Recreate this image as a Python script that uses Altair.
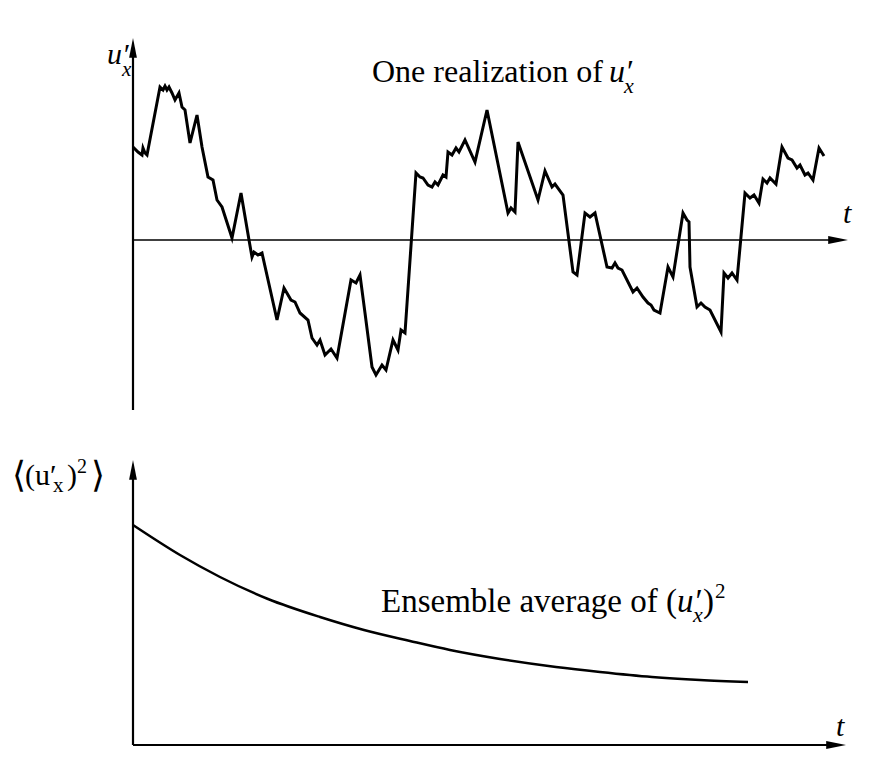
import altair as alt
import pandas as pd

# ---------- data (arbitrary units) ----------
# Top panel: one realization of u'_x versus t
t_real = [0.0, 0.5, 0.9, 1.0, 1.2, 1.4, 2.7, 3.0, 3.2, 3.4, 3.6, 3.9, 4.2, 4.6, 4.9, 5.2,
          5.7, 6.4, 6.9, 7.5, 8.0, 8.4, 8.9, 9.9, 10.8, 11.6, 11.9, 12.1, 12.5, 12.9,
          14.4, 15.1, 15.8, 16.2, 16.7, 17.5, 17.9, 18.4, 18.7, 19.2, 19.8, 20.4, 21.8,
          22.3, 22.7, 23.2, 23.9, 24.3, 24.9, 25.3, 26.0, 26.5, 26.8, 27.2, 28.3, 28.7,
          29.0, 29.5, 29.9, 30.2, 30.5, 31.0, 31.3, 31.5, 31.9, 32.3, 32.6, 33.2, 34.2,
          35.4, 37.5, 37.8, 38.2, 38.5, 40.5, 41.2, 41.9, 42.2, 43.0, 44.0, 44.4, 45.2,
          45.7, 46.2, 47.4, 47.9, 48.2, 48.5, 48.9, 50.0, 50.4, 51.0, 51.5, 51.8, 52.1,
          52.7, 53.5, 54.0, 55.0, 55.4, 55.6, 55.7, 56.4, 56.8, 57.2, 57.7, 58.8, 59.1,
          59.5, 59.9, 60.4, 61.2, 61.7, 62.1, 62.6, 63.0, 63.4, 63.7, 64.3, 64.9, 65.5,
          65.9, 66.4, 66.7, 67.2, 67.5, 68.0, 68.6, 69.1]
u_real = [9.3, 8.8, 8.5, 9.2, 8.7, 8.5, 15.3, 15.0, 15.4, 15.0, 15.3, 14.7, 14.0, 14.7, 13.3, 13.0,
          9.7, 12.5, 9.3, 6.3, 6.0, 4.0, 3.3, 0.2, 4.7, 0.0, -1.7, -1.2, -1.5, -1.3,
          -8.0, -4.8, -6.0, -6.2, -7.3, -8.0, -9.8, -10.5, -10.0, -11.5, -10.9, -11.8, -4.0,
          -4.3, -3.5, -7.3, -12.7, -13.5, -12.5, -13.0, -10.0, -11.0, -9.0, -9.3, 6.7, 6.3,
          6.2, 5.5, 5.3, 5.8, 5.5, 6.5, 6.3, 8.8, 8.5, 9.2, 8.8, 10.0, 7.8,
          13.0, 2.7, 3.2, 2.8, 9.8, 4.0, 6.9, 5.3, 5.6, 4.5, -3.2, -3.5, 2.7,
          2.3, 2.7, -2.7, -2.8, -2.3, -2.8, -3.0, -5.2, -4.8, -5.7, -6.3, -6.5, -7.0,
          -7.3, -2.7, -3.7, 2.7, 2.0, 1.8, -2.7, -6.7, -6.3, -6.7, -7.0, -9.2, -3.3,
          -3.8, -3.3, -4.0, 4.7, 4.2, 4.5, 3.7, 6.1, 5.7, 6.2, 5.6, 9.3, 8.2,
          8.0, 7.2, 7.5, 6.5, 6.7, 6.0, 9.2, 8.4]

# Bottom panel: ensemble average of (u'_x)^2 versus t
t_avg = [0.0, 4.7, 8.7, 13.5, 18.7, 23.1, 27.7, 31.7, 36.7, 42.3, 46.7, 51.9, 56.7, 61.5]
v_avg = [22.0, 19.0, 16.8, 14.6, 12.8, 11.5, 10.4, 9.5, 8.6, 7.8, 7.3, 6.8, 6.5, 6.3]

# ---------- layout ----------
T_DOMAIN = [-12.5, 75.1]
U_DOMAIN = [-18.0, 23.2]
V_DOMAIN = [-2.1, 32.5]
W, H_TOP, H_BOT = 876, 412, 346
FONT = "Liberation Serif"
UP = "M0,0L-0.65,3.3L0.65,3.3Z"
RIGHT = "M0,0L-3.3,-0.65L-3.3,0.65Z"


def xs(field):
    return alt.X(f"{field}:Q", scale=alt.Scale(domain=T_DOMAIN, nice=False, zero=False), axis=None)


def ys(field, dom):
    return alt.Y(f"{field}:Q", scale=alt.Scale(domain=dom, nice=False, zero=False), axis=None)


def panel(line_df, rules, ups, rights, labels, dom, height, line_w, interp):
    layers = []
    rdf = pd.DataFrame(rules, columns=["t", "t2", "y", "y2", "w"])
    layers.append(
        alt.Chart(rdf).mark_rule(color="black").encode(
            x=xs("t"), x2="t2:Q", y=ys("y", dom), y2="y2:Q",
            strokeWidth=alt.StrokeWidth("w:Q", scale=None))
    )
    layers.append(
        alt.Chart(pd.DataFrame(ups, columns=["t", "y"])).mark_point(
            shape=UP, size=144, filled=True, opacity=1, color="black", strokeWidth=0
        ).encode(x=xs("t"), y=ys("y", dom))
    )
    layers.append(
        alt.Chart(pd.DataFrame(rights, columns=["t", "y"])).mark_point(
            shape=RIGHT, size=144, filled=True, opacity=1, color="black", strokeWidth=0
        ).encode(x=xs("t"), y=ys("y", dom))
    )
    layers.append(
        alt.Chart(line_df).mark_line(color="black", strokeWidth=line_w, interpolate=interp,
                                     strokeJoin="miter").encode(
            x=xs("t"), y=ys("y", dom), order="i:Q")
    )
    ldf = pd.DataFrame(labels, columns=["text", "t", "y", "size", "style"])
    for style in ["normal", "italic"]:
        sub = ldf[ldf["style"] == style]
        if len(sub):
            layers.append(
                alt.Chart(sub).mark_text(align="left", baseline="alphabetic", font=FONT,
                                         fontStyle=style, color="black").encode(
                    x=xs("t"), y=ys("y", dom), text="text:N",
                    size=alt.Size("size:Q", scale=None))
            )
    return alt.layer(*layers).properties(width=W, height=height)


top_line = pd.DataFrame({"t": t_real, "y": u_real, "i": range(len(t_real))})
top = panel(
    top_line,
    rules=[[0, 0, -17.0, 19.0, 2.2], [0, 70.3, 0, 0, 1.6]],
    ups=[[0, 20.2]],
    rights=[[71.5, 0]],
    labels=[
        ["u′", -2.6, 17.6, 30, "italic"],
        ["x", -1.1, 16.4, 21, "italic"],
        ["One realization of", 23.9, 15.8, 32, "normal"],
        ["u′", 47.6, 15.8, 32, "italic"],
        ["x", 49.1, 14.7, 22, "italic"],
        ["t", 71.0, 1.7, 30, "italic"],
    ],
    dom=U_DOMAIN, height=H_TOP, line_w=3, interp="linear",
)

bot_line = pd.DataFrame({"t": t_avg, "y": v_avg, "i": range(len(t_avg))})
bottom = panel(
    bot_line,
    rules=[[0, 0, 0, 27.5, 2.2], [0, 70.1, 0, 0, 2.2]],
    ups=[[0, 28.5]],
    rights=[[71.3, 0]],
    labels=[
        ["⟨", -12.1, 25.8, 36, "normal"],
        ["(u′", -10.8, 26.0, 30, "normal"],
        ["x", -8.0, 25.3, 21, "normal"],
        [")", -6.6, 26.0, 30, "normal"],
        ["2", -5.6, 27.2, 20, "normal"],
        ["⟩", -4.2, 25.8, 36, "normal"],
        ["Ensemble average of (", 24.8, 13.3, 33, "normal"],
        ["u′", 54.4, 13.3, 33, "italic"],
        ["x", 56.0, 12.3, 22, "italic"],
        [")", 57.0, 13.3, 33, "normal"],
        ["2", 58.2, 14.7, 21, "normal"],
        ["t", 70.3, 0.9, 30, "italic"],
    ],
    dom=V_DOMAIN, height=H_BOT, line_w=2.5, interp="monotone",
)

chart = alt.vconcat(top, bottom, spacing=0).properties(padding=0).configure_view(strokeWidth=0)

chart.save("out.html", embed_options={"renderer": "svg", "actions": False})
